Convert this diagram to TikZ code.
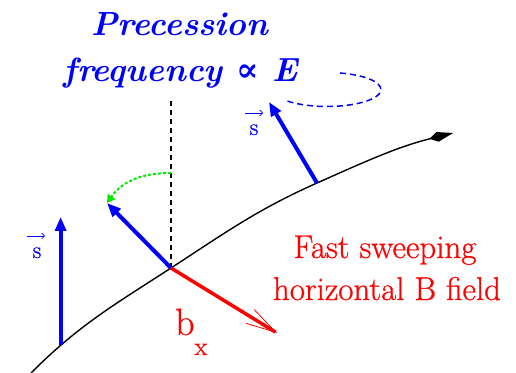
\documentclass[tikz,border=0pt]{standalone}
\usepackage{fontspec}
\setmainfont{Latin Modern Roman}
\newfontfamily\heavyfont{Latin Modern Roman}[FakeBold=0.7]
\newfontfamily\titlefont{Latin Modern Roman}
\newfontfamily\symfont{DejaVu Serif}
\usetikzlibrary{arrows.meta}
\definecolor{sblue}{RGB}{0,0,255}
\definecolor{sred}{RGB}{255,0,0}
\definecolor{sgreen}{RGB}{0,235,0}
\tikzset{
  spinarrow/.style={draw=sblue, line width=4pt, -{Triangle[length=14pt,width=11pt]}},
  fieldarrow/.style={draw=sred, line width=3.5pt, -{Straight Barb[length=30pt,width=16pt,line width=0.8pt]}},
  track/.style={draw=black, line width=1.4pt, -{Kite[length=24pt,width=10pt,inset=8pt]}},
  axisline/.style={draw=black, line width=1.4pt, dash pattern=on 5pt off 4pt},
  precline/.style={draw=sblue, line width=1.5pt, dash pattern=on 6pt off 4pt},
  rotarrow/.style={draw=sgreen, line width=2pt, dash pattern=on 3pt off 2pt, -{Triangle[length=8pt,width=9pt]}},
  titletext/.style={text=sblue, font=\titlefont\fontsize{33.5}{42}\selectfont\bfseries\itshape, inner sep=0pt, anchor=base},
  redtext/.style={text=sred, font=\heavyfont\fontsize{33}{40}\selectfont, inner sep=0pt, anchor=base},
  stext/.style={text=sblue, font=\heavyfont\fontsize{24}{28}\selectfont, inner sep=0pt, anchor=base},
  vecmark/.style={draw=sblue, line width=0.7pt, -{Straight Barb[length=3pt,width=6pt]}}
}
\begin{document}
\begin{tikzpicture}[x=1pt,y=1pt]
\useasboundingbox (0,0) rectangle (516,372);
% track
\coordinate (c0) at (31,-1);
\coordinate (P) at (171,104);
\coordinate (Q) at (317,189);
\coordinate (c4) at (453,239);
\draw[track] (c0) to[out=45,in=213] coordinate[pos=0.215] (c1) (P)
  to[out=33,in=204] (Q) to[out=24,in=194] (c4);
% vertical axis
\coordinate (axtop) at (171,272);
\draw[axisline] (P) -- (axtop);
% spin arrows
\coordinate (s1tip) at (62,155);
\coordinate (s2tip) at (107,169);
\coordinate (s3tip) at (269,270);
\draw[spinarrow] (c1) -- (c1 |- s1tip);
\draw[spinarrow] (P) -- (s2tip);
\draw[spinarrow] (Q) -- (s3tip);
% field arrow
\coordinate (btip) at (277,39);
\draw[fieldarrow] (P) -- (btip);
% green rotation
\coordinate (gstart) at (171,199);
\draw[rotarrow] (gstart) to[out=180,in=55] (s2tip);
% precession ellipse
\coordinate (ellstart) at (340,299);
\draw[precline] (ellstart) arc[start angle=76, end angle=-142, x radius=54, y radius=17];
% texts
\node[titletext] (t1) at (180,336) {Precession};
\node[titletext] (t2) at (181,290) {frequency {\symfont ∝} E};
\node[redtext] (r1) at (385,114) {Fast sweeping};
\node[redtext] (r2) at (387,72) {horizontal B field};
\node[text=sred, font=\heavyfont\fontsize{38}{44}\selectfont, inner sep=0pt, anchor=base west] (bx) at (175,37) {b\raisebox{-20pt}{\fontsize{26}{30}\selectfont x}};
\node[stext] (sl) at (37,114) {s};
\node[stext] (sr) at (254,237) {s};
\coordinate (vl0) at (27,136); \coordinate (vl1) at (45,136);
\coordinate (vr0) at (245,259); \coordinate (vr1) at (263,259);
\draw[vecmark] (vl0) -- (vl1);
\draw[vecmark] (vr0) -- (vr1);
\end{tikzpicture}
\end{document}
